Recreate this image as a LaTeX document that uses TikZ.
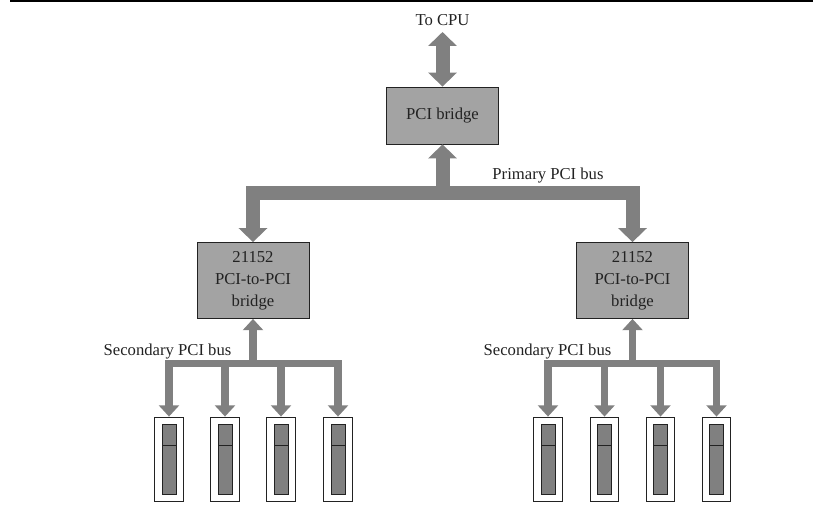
\documentclass[tikz,border=0pt]{standalone}
\usepackage{fontspec}
\setmainfont{Liberation Serif}
\usetikzlibrary{arrows.meta}
\definecolor{busgray}{HTML}{808080}
\definecolor{boxgray}{HTML}{A3A3A3}
\definecolor{inkgray}{HTML}{222222}

\begin{document}
\begin{tikzpicture}[x=0.75pt,y=-0.75pt,font=\fontsize{12.5}{16.5}\selectfont,text=inkgray]
	\useasboundingbox (0,0) rectangle (813,506);
	\draw[line width=1.1pt,black] (10,1) -- (813,1);

	\begin{scope}[every node/.style={draw=inkgray,fill=boxgray,line width=0.6pt,align=center,inner sep=0pt,minimum width=84pt}]
	    \node[minimum height=42.75pt] (pci) at (442.5,115.5) {PCI bridge};
	    \node[minimum height=57pt] (bridgeL) at (253,280.5) {21152\\PCI-to-PCI\\bridge};
	    \node[minimum height=57pt] (bridgeR) at (632.5,280.5) {21152\\PCI-to-PCI\\bridge};
	\end{scope}

	\node (cpu) at (442.5,20) {To CPU};
	\node (primary) at (548,176) {Primary PCI bus};
	\node (secL) at (167.5,352) {Secondary PCI bus};
	\node (secR) at (547.5,352) {Secondary PCI bus};

	\coordinate (cputip) at (442.5,32);
	\coordinate (busP) at (442.5,193);
	\coordinate (busL) at (253,363.5);
	\coordinate (busR) at (632.5,363.5);

	% slots under each bridge
	\begin{scope}[every node/.style={draw=inkgray,line width=0.6pt,inner sep=0pt}]
	    \foreach \x/\n in {169/L1,225/L2,281/L3,338/L4,548/R1,604.5/R2,660.5/R3,716.5/R4} {
	        \node[fill=white,minimum width=21.5pt,minimum height=63pt] (slot\n) at (\x,459) {};
	        \node[fill=busgray,minimum width=10.5pt,minimum height=52.5pt] (card\n) at (\x,459) {};
	        \draw[inkgray,line width=0.6pt] (\x-7,445.7) -- (\x+7,445.7);
	    }
	\end{scope}

	\begin{scope}[>={Triangle[width=21pt,length=10.5pt]},draw=busgray,line width=10.5pt,miter limit=10]
	    \draw[<->,busgray] (cputip) -- (pci);
	    \draw[->,busgray] (busP) -- (pci);
	    \draw[->,busgray] (busP) -| (bridgeL);
	    \draw[->,busgray] (busP) -| (bridgeR);
	\end{scope}

	\begin{scope}[>={Triangle[width=15pt,length=8.5pt]},line width=5.5pt]
	    \draw[->,busgray] (busL) -- (bridgeL);
	    \draw[->,busgray] (busR) -- (bridgeR);
	    \foreach \n in {L1,L2,L3,L4} \draw[->,busgray] (busL) -| (slot\n);
	    \foreach \n in {R1,R2,R3,R4} \draw[->,busgray] (busR) -| (slot\n);
	\end{scope}
\end{tikzpicture}
\end{document}
